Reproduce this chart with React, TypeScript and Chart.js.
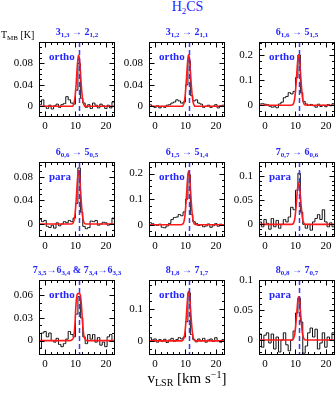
import React, { useEffect, useRef } from 'react';
import { Chart, registerables } from 'chart.js';

Chart.register(...registerables);

// ---------- data ----------
const VELOCITY = [-1.6, -0.8, 0, 0.8, 1.6, 2.4, 3.2, 4.0, 4.8, 5.6, 6.4, 7.2, 8.0, 8.8, 9.6, 10.4, 11.2, 12.0, 12.8, 13.6, 14.4, 15.2, 16.0, 16.8, 17.6, 18.4, 19.2, 20.0, 20.8, 21.6, 22.4, 23.2];
const FIT_VELOCITY = [-2, 8.0, 8.8, 9.4, 9.8, 10.2, 10.5, 10.8, 11.05, 11.3, 11.6, 11.9, 12.3, 12.7, 13.3, 14.1, 23];
const V_SYS = 11.0;
const X_RANGE = [-2, 23];
const X_TICKS = [0, 10, 20];
const X_MINOR = 2;

const OBS_1 = [0.003, 0.012, 0.0, -0.004, 0.002, -0.005, 0.001, 0.004, -0.002, 0.003, 0.005, 0.018, 0.012, 0.006, 0.004, 0.03, 0.08, 0.015, 0.006, -0.002, 0.003, -0.004, 0.006, 0.002, -0.003, 0.004, 0.001, -0.004, 0.002, -0.003, 0.008, 0.0];
const FIT_1 = [0, 0, 0, 0.004, 0.015, 0.04, 0.067, 0.088, 0.095, 0.088, 0.067, 0.04, 0.015, 0.004, 0, 0, 0];
const OBS_2 = [0.003, 0.0, -0.002, 0.001, -0.003, 0.0, -0.002, 0.002, 0.003, 0.006, 0.008, 0.012, 0.01, 0.006, 0.008, 0.04, 0.085, 0.02, 0.01, 0.012, 0.006, 0.004, -0.002, 0.0, 0.002, -0.002, 0.0, 0.003, -0.003, 0.001, 0.002, 0.0];
const FIT_2 = [0, 0, 0, 0.004, 0.015, 0.041, 0.067, 0.089, 0.096, 0.089, 0.067, 0.041, 0.015, 0.004, 0, 0, 0];
const OBS_3 = [0.005, 0.006, 0.004, 0.002, -0.004, -0.008, -0.006, -0.01, 0.005, 0.012, 0.03, 0.035, 0.05, 0.045, 0.055, 0.11, 0.2, 0.05, 0.015, 0.005, 0.0, 0.003, -0.002, -0.008, 0.004, -0.005, 0.0, -0.006, 0.003, -0.002, 0.006, 0.004];
const FIT_3 = [0, 0, 0.001, 0.008, 0.031, 0.085, 0.14, 0.186, 0.2, 0.186, 0.14, 0.085, 0.031, 0.008, 0.001, 0, 0];
const OBS_4 = [0.008, 0.004, 0.006, -0.004, -0.006, -0.002, -0.007, 0.002, -0.003, 0.0, 0.004, 0.002, 0.006, 0.004, 0.01, 0.035, 0.095, 0.02, -0.004, -0.008, -0.006, 0.005, 0.004, 0.006, -0.002, 0.0, 0.003, 0.002, -0.002, 0.0, 0.01, 0.004];
const FIT_4 = [0, 0, 0, 0.004, 0.014, 0.038, 0.063, 0.084, 0.09, 0.084, 0.063, 0.038, 0.014, 0.004, 0, 0, 0];
const OBS_5 = [0.008, 0.004, 0.0, -0.003, 0.002, -0.01, -0.012, -0.005, 0.005, 0.02, 0.028, 0.03, 0.04, 0.035, 0.05, 0.1, 0.195, 0.04, 0.012, 0.005, -0.003, 0.0, -0.008, -0.005, 0.003, -0.01, -0.004, 0.004, -0.006, 0.002, 0.0, 0.004];
const FIT_5 = [0, 0, 0.001, 0.008, 0.033, 0.089, 0.147, 0.195, 0.21, 0.195, 0.147, 0.089, 0.033, 0.008, 0.001, 0, 0];
const OBS_6 = [0.005, -0.005, 0.01, 0.002, -0.01, 0.012, -0.005, 0.008, -0.008, 0.0, 0.01, 0.005, 0.015, 0.035, 0.03, 0.07, 0.105, 0.025, 0.0, -0.008, 0.0, -0.012, 0.005, 0.012, 0.02, 0.01, 0.03, 0.005, -0.005, 0.003, -0.005, 0.0];
const FIT_6 = [0, 0, 0, 0.003, 0.013, 0.036, 0.06, 0.079, 0.085, 0.079, 0.06, 0.036, 0.013, 0.003, 0, 0, 0];
const OBS_7 = [-0.01, 0.01, 0.012, 0.005, 0.01, 0.0, -0.002, 0.003, -0.005, -0.008, -0.004, 0.002, 0.012, 0.008, 0.005, 0.035, 0.058, 0.03, 0.005, -0.004, 0.008, 0.002, 0.008, -0.002, 0.004, -0.006, -0.002, -0.008, 0.005, 0.008, 0.0, 0.006];
const FIT_7 = [0, 0, 0.001, 0.005, 0.02, 0.05, 0.06, 0.062, 0.062, 0.062, 0.06, 0.05, 0.025, 0.008, 0.001, 0, 0];
const OBS_8 = [0.01, 0.003, 0.006, -0.004, 0.004, -0.002, 0.005, -0.005, 0.003, 0.008, -0.002, 0.004, 0.01, 0.006, 0.012, 0.06, 0.15, 0.02, 0.004, -0.003, 0.006, 0.0, 0.008, -0.004, 0.003, 0.006, -0.002, 0.01, 0.0, -0.004, 0.004, 0.002];
const FIT_8 = [0, 0, 0, 0.006, 0.024, 0.066, 0.109, 0.144, 0.155, 0.144, 0.109, 0.066, 0.024, 0.006, 0, 0, 0];
const OBS_9 = [0.01, -0.012, 0.008, 0.012, -0.005, 0.01, -0.015, 0.005, -0.02, 0.0, 0.012, -0.008, -0.018, 0.0, 0.015, 0.045, 0.07, 0.03, -0.022, -0.01, 0.012, 0.02, 0.005, 0.018, -0.015, -0.005, 0.012, -0.012, 0.005, 0.0, 0.012, -0.005];
const FIT_9 = [0, 0, 0, 0.003, 0.011, 0.031, 0.05, 0.067, 0.072, 0.067, 0.05, 0.031, 0.011, 0.003, 0, 0, 0];

const Y_RANGE_1 = [-0.02, 0.12];
const Y_RANGE_2 = [-0.02, 0.12];
const Y_RANGE_3 = [-0.047, 0.252];
const Y_RANGE_4 = [-0.022, 0.105];
const Y_RANGE_5 = [-0.048, 0.245];
const Y_RANGE_6 = [-0.026, 0.128];
const Y_RANGE_7 = [-0.019, 0.08];
const Y_RANGE_8 = [-0.044, 0.19];
const Y_RANGE_9 = [-0.025, 0.1];

const Y_TICKS_1 = [0, 0.04, 0.08];
const Y_TICKS_2 = [0, 0.04, 0.08];
const Y_TICKS_3 = [0, 0.1, 0.2];
const Y_TICKS_4 = [0, 0.04, 0.08];
const Y_TICKS_5 = [0, 0.1, 0.2];
const Y_TICKS_6 = [0, 0.05, 0.1];
const Y_TICKS_7 = [0, 0.03, 0.06];
const Y_TICKS_8 = [0, 0.1];
const Y_TICKS_9 = [0, 0.05, 0.1];

const Y_MINOR = [0.01, 0.01, 0.025, 0.01, 0.025, 0.01, 0.01, 0.025, 0.01];
const SPECIES = ['ortho', 'ortho', 'ortho', 'para', 'ortho', 'para', 'ortho', 'ortho', 'para'];

// ---------- layout ----------
const BLUE = '#2626ff';
const DASH_BLUE = '#3a3aff';
const COLS = [39, 149, 259];
const ROWS = [42, 162, 280];
const PW = 76;
const PH = 75;
const AXIS_W = 36;
const AXIS_H = 18;
const PAD_T = 8;
const PAD_R = 8;
const TICK_FONT = { family: '"Liberation Serif", serif', size: 11 };

const Q = ({ n, s }: { n: string; s: string }) => (
  <span>
    {n}
    <sub style={{ fontSize: 7, verticalAlign: '-2px', lineHeight: 0 }}>{s}</sub>
  </span>
);

const TITLES = [
  <><Q n="3" s="1,3" /> → <Q n="2" s="1,2" /></>,
  <><Q n="3" s="1,2" /> → <Q n="2" s="1,1" /></>,
  <><Q n="6" s="1,6" /> → <Q n="5" s="1,5" /></>,
  <><Q n="6" s="0,6" /> → <Q n="5" s="0,5" /></>,
  <><Q n="6" s="1,5" /> → <Q n="5" s="1,4" /></>,
  <><Q n="7" s="0,7" /> → <Q n="6" s="0,6" /></>,
  <><Q n="7" s="3,5" />→<Q n="6" s="3,4" /> &amp; <Q n="7" s="3,4" />→<Q n="6" s="3,3" /></>,
  <><Q n="8" s="1,8" /> → <Q n="7" s="1,7" /></>,
  <><Q n="8" s="0,8" /> → <Q n="7" s="0,7" /></>,
];

const OBS = [OBS_1, OBS_2, OBS_3, OBS_4, OBS_5, OBS_6, OBS_7, OBS_8, OBS_9];
const FITS = [FIT_1, FIT_2, FIT_3, FIT_4, FIT_5, FIT_6, FIT_7, FIT_8, FIT_9];
const Y_RANGES = [Y_RANGE_1, Y_RANGE_2, Y_RANGE_3, Y_RANGE_4, Y_RANGE_5, Y_RANGE_6, Y_RANGE_7, Y_RANGE_8, Y_RANGE_9];
const Y_TICKS = [Y_TICKS_1, Y_TICKS_2, Y_TICKS_3, Y_TICKS_4, Y_TICKS_5, Y_TICKS_6, Y_TICKS_7, Y_TICKS_8, Y_TICKS_9];

const fmt = (v: number) => (v === 0 ? '0' : String(+Number(v).toFixed(3)));

const framePlugin = {
  id: 'frame',
  afterDatasetsDraw(chart: any, _args: any, opts: any) {
    const { ctx, chartArea: a, scales } = chart;
    const xs = scales.x;
    const ys = scales.y;
    ctx.save();
    // systemic velocity dashed line
    const vx = Math.round(xs.getPixelForValue(opts.vsys)) + 0.5;
    ctx.strokeStyle = DASH_BLUE;
    ctx.lineWidth = 1.5;
    ctx.setLineDash([5, 3]);
    ctx.beginPath();
    ctx.moveTo(vx, a.top);
    ctx.lineTo(vx, a.bottom);
    ctx.stroke();
    ctx.setLineDash([]);
    // frame
    ctx.strokeStyle = '#000';
    ctx.lineWidth = 1;
    const L = Math.round(a.left) + 0.5;
    const R = Math.round(a.right) - 0.5;
    const T = Math.round(a.top) + 0.5;
    const B = Math.round(a.bottom) - 0.5;
    ctx.strokeRect(L, T, R - L, B - T);
    ctx.beginPath();
    const major = 5;
    const minor = 2.5;
    const drawX = (v: number, len: number) => {
      const px = Math.round(xs.getPixelForValue(v)) + 0.5;
      if (px < L || px > R) return;
      ctx.moveTo(px, B); ctx.lineTo(px, B - len);
      ctx.moveTo(px, T); ctx.lineTo(px, T + len);
    };
    const drawY = (v: number, len: number) => {
      const py = Math.round(ys.getPixelForValue(v)) + 0.5;
      if (py < T || py > B) return;
      ctx.moveTo(L, py); ctx.lineTo(L + len, py);
      ctx.moveTo(R, py); ctx.lineTo(R - len, py);
    };
    const xStart = Math.ceil(xs.min / opts.xMinor);
    const xEnd = Math.floor(xs.max / opts.xMinor);
    for (let k = xStart; k <= xEnd; k++) drawX(k * opts.xMinor, minor);
    xs.ticks.forEach((t: any) => drawX(t.value, major));
    const yStart = Math.ceil(ys.min / opts.yMinor - 1e-6);
    const yEnd = Math.floor(ys.max / opts.yMinor + 1e-6);
    for (let k = yStart; k <= yEnd; k++) drawY(k * opts.yMinor, minor);
    ys.ticks.forEach((t: any) => drawY(t.value, major));
    ctx.stroke();
    ctx.restore();
  },
};

function Panel({ idx }: { idx: number }) {
  const ref = useRef<HTMLCanvasElement>(null);
  const col = idx % 3;
  const row = Math.floor(idx / 3);
  const W = AXIS_W + PW + PAD_R;
  const H = PAD_T + PH + AXIS_H;
  useEffect(() => {
    const obs = OBS[idx];
    const fit = FITS[idx];
    const yr = Y_RANGES[idx];
    const yt = Y_TICKS[idx];
    const chart = new Chart(ref.current as HTMLCanvasElement, {
      type: 'line',
      data: {
        datasets: [
          {
            data: FIT_VELOCITY.map((x, i) => ({ x, y: fit[i] })),
            borderColor: '#ff1a1a',
            borderWidth: 1.6,
            pointRadius: 0,
            cubicInterpolationMode: 'monotone',
            fill: false,
          },
          {
            data: VELOCITY.map((x, i) => ({ x, y: obs[i] })),
            borderColor: '#111',
            borderWidth: 1,
            pointRadius: 0,
            stepped: 'middle',
            fill: false,
          },
        ],
      } as any,
      options: {
        responsive: false,
        animation: false,
        devicePixelRatio: 1,
        events: [],
        layout: { padding: { left: 0, top: PAD_T, right: PAD_R, bottom: 0 } },
        plugins: {
          legend: { display: false },
          tooltip: { enabled: false },
          frame: { vsys: V_SYS, xMinor: X_MINOR, yMinor: Y_MINOR[idx] },
        } as any,
        scales: {
          x: {
            type: 'linear',
            min: X_RANGE[0],
            max: X_RANGE[1],
            grid: { display: false, drawTicks: false },
            border: { display: false },
            ticks: { padding: 3, font: TICK_FONT, color: '#000', maxRotation: 0, autoSkip: false, callback: (v: any) => fmt(Number(v)) },
            afterBuildTicks: (s: any) => { s.ticks = X_TICKS.map((value) => ({ value })); },
            afterFit: (s: any) => { s.height = AXIS_H; s.paddingLeft = 0; s.paddingRight = 0; },
          },
          y: {
            type: 'linear',
            min: yr[0],
            max: yr[1],
            grid: { display: false, drawTicks: false },
            border: { display: false },
            ticks: { padding: 6, font: TICK_FONT, color: '#000', autoSkip: false, callback: (v: any) => fmt(Number(v)) },
            afterBuildTicks: (s: any) => { s.ticks = yt.map((value) => ({ value })); },
            afterFit: (s: any) => { s.width = AXIS_W; s.paddingTop = 0; s.paddingBottom = 0; },
          },
        },
      } as any,
      plugins: [framePlugin],
    });
    return () => chart.destroy();
  }, [idx]);
  return (
    <canvas
      ref={ref}
      width={W}
      height={H}
      style={{ position: 'absolute', left: COLS[col] - AXIS_W, top: ROWS[row] - PAD_T, width: W, height: H, display: 'block' }}
    />
  );
}

export default function App() {
  const idxs = [0, 1, 2, 3, 4, 5, 6, 7, 8];
  return (
    <div
      style={{
        position: 'absolute', left: 0, top: 0, width: 336, height: 393, overflow: 'hidden',
        background: '#fff', fontFamily: '"Liberation Serif", serif', color: '#000',
      }}
    >
      {idxs.map((i) => <Panel key={i} idx={i} />)}
      {idxs.map((i) => (
        <div
          key={'t' + i}
          style={{
            position: 'absolute', left: COLS[i % 3] + PW / 2, top: ROWS[Math.floor(i / 3)] - 16,
            transform: 'translateX(-50%)', whiteSpace: 'nowrap', fontSize: 10, fontWeight: 'bold',
            lineHeight: '12px', color: BLUE,
          }}
        >
          {TITLES[i]}
        </div>
      ))}
      {idxs.map((i) => (
        <div
          key={'s' + i}
          style={{
            position: 'absolute', left: COLS[i % 3] + 10, top: ROWS[Math.floor(i / 3)] + 9,
            fontSize: 11, fontWeight: 'bold', lineHeight: '11px', color: BLUE, whiteSpace: 'nowrap',
          }}
        >
          {SPECIES[i]}
        </div>
      ))}
      <div style={{ position: 'absolute', left: 0, width: 375, top: 0, textAlign: 'center', fontSize: 14, lineHeight: '14px', color: BLUE, whiteSpace: 'nowrap' }}>
        H<sub style={{ fontSize: 9, verticalAlign: '-3px', lineHeight: 0 }}>2</sub>CS
      </div>
      <div style={{ position: 'absolute', left: 1, top: 29, fontSize: 10, lineHeight: '12px', whiteSpace: 'nowrap' }}>
        T<sub style={{ fontSize: 7, verticalAlign: '-2px', lineHeight: 0 }}>MB</sub> [K]
      </div>
      <div style={{ position: 'absolute', left: 0, width: 374, top: 371, textAlign: 'center', fontSize: 15, lineHeight: '15px', whiteSpace: 'nowrap' }}>
        v<sub style={{ fontSize: 10, verticalAlign: '-3px', lineHeight: 0 }}>LSR</sub> [km s<sup style={{ fontSize: 10, verticalAlign: '5px', lineHeight: 0 }}>−1</sup>]
      </div>
    </div>
  );
}
